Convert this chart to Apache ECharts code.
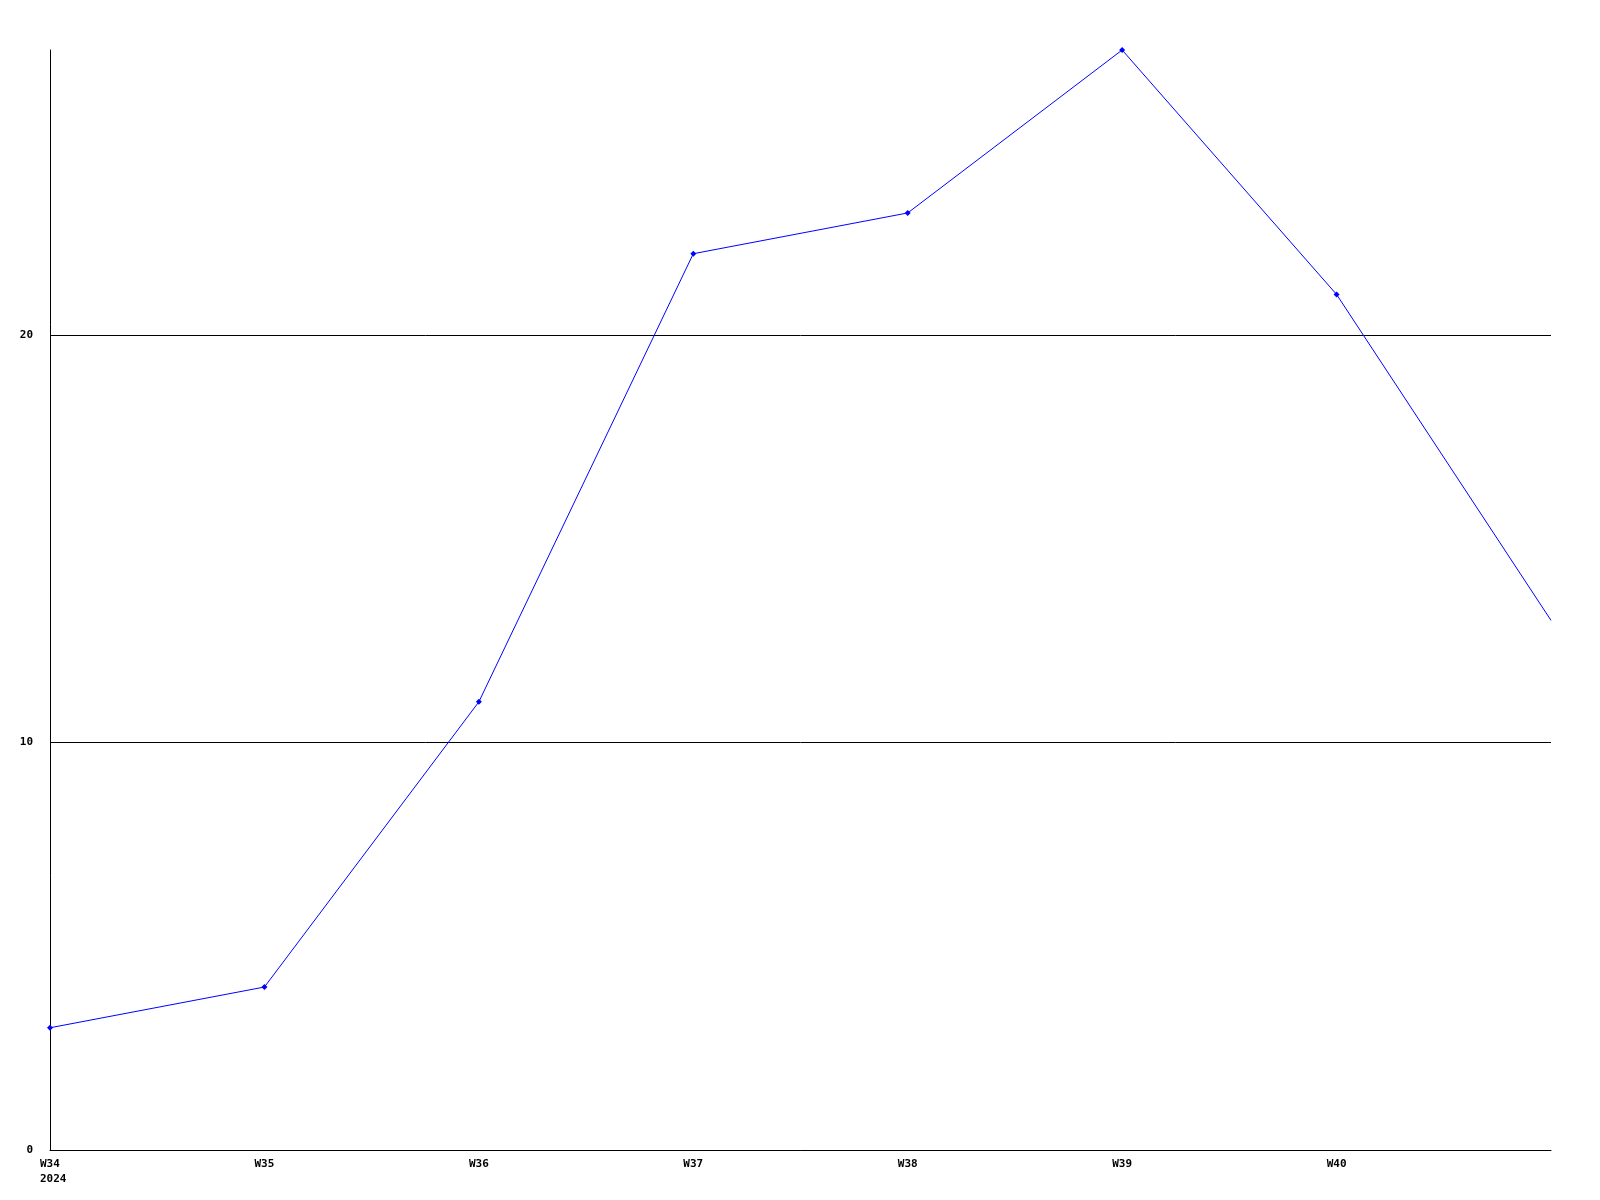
<!DOCTYPE html>
<html>
<head>
<meta charset="utf-8">
<script src="https://cdn.jsdelivr.net/npm/echarts@6/dist/echarts.min.js"></script>
<style>html,body{margin:0;padding:0;background:#fff}#c{width:1600px;height:1200px}</style>
</head>
<body>
<div id="c"></div>
<script>
const categories = ["W34", "W35", "W36", "W37", "W38", "W39", "W40", "W41"];
const categoryLabels = ["W34", "W35", "W36", "W37", "W38", "W39", "W40", ""];
const yearLabel = "2024";
const values = [3, 4, 11, 22, 23, 27, 21, 13];
const yTicks = [0, 10, 20];

const chart = echarts.init(document.getElementById('c'), null, {renderer: 'canvas'});
const font = {fontFamily: 'DejaVu Sans Mono', fontWeight: 'bold', fontSize: 11, color: '#000'};
chart.setOption({
  animation: false,
  backgroundColor: '#fff',
  grid: {left: 50, top: 50, right: 49, bottom: 50, containLabel: false},
  xAxis: {
    type: 'category',
    data: categories,
    boundaryGap: false,
    axisLine: {lineStyle: {color: '#000', width: 1}},
    axisTick: {show: false},
    splitLine: {show: false},
    axisLabel: Object.assign({}, font, {
      interval: 0, margin: 7, lineHeight: 15,
      formatter: (v, i) => i === 0
        ? '{a|' + categoryLabels[0] + '}\n{a|' + yearLabel + '}'
        : categoryLabels[i],
      rich: {a: Object.assign({}, font, {width: 20, align: 'left', lineHeight: 15})}
    })
  },
  yAxis: {
    type: 'value',
    min: 0, max: 27, interval: 10,
    axisLine: {show: true, lineStyle: {color: '#000', width: 1}},
    axisTick: {show: false},
    splitLine: {show: true, showMaxLine: false, lineStyle: {color: '#000', width: 1}},
    axisLabel: Object.assign({}, font, {
      margin: 17,
      showMaxLabel: false,
      formatter: v => yTicks.includes(v) ? String(v) : ''
    })
  },
  series: [{
    type: 'line',
    data: values.map((v, i) => i === values.length - 1 ? {value: v, symbol: 'none'} : v),
    symbol: 'diamond',
    symbolSize: 6,
    showAllSymbol: true,
    lineStyle: {color: '#0000ff', width: 1},
    itemStyle: {color: '#0000ff'},
    clip: true
  }]
});
</script>
</body>
</html>
